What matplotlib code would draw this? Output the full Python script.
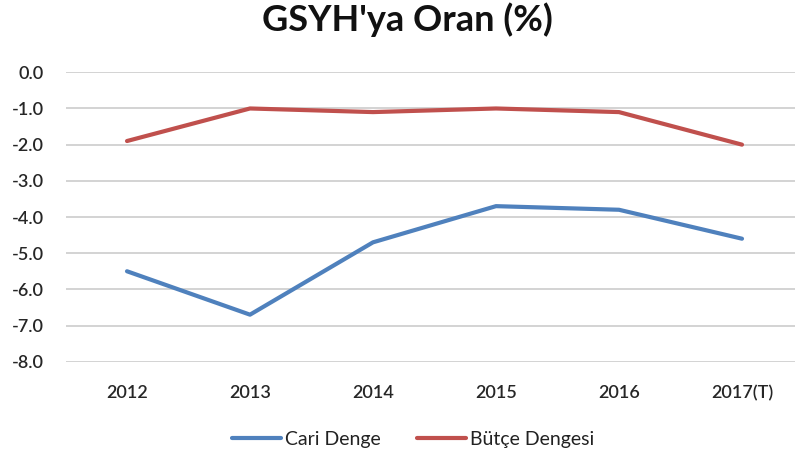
import matplotlib.pyplot as plt

# Veriler
yillar = ['2012', '2013', '2014', '2015', '2016', '2017(T)']
cari_denge = [-5.5, -6.7, -4.7, -3.7, -3.8, -4.6]
butce_dengesi = [-1.9, -1.0, -1.1, -1.0, -1.1, -2.0]

plt.rcParams['font.family'] = ['Lato', 'DejaVu Sans']

fig = plt.figure(figsize=(7.95, 4.59), dpi=100)
ax = fig.add_axes([65.5 / 795, 1 - 361.7 / 459, 738 / 795, (361.7 - 72.3) / 459])

x = range(len(yillar))
ax.plot(x, cari_denge, color='#4F81BD', linewidth=3, label='Cari Denge',
        solid_capstyle='round', solid_joinstyle='round')
ax.plot(x, butce_dengesi, color='#C0504D', linewidth=3, label='Bütçe Dengesi',
        solid_capstyle='round', solid_joinstyle='round')

ax.set_xlim(-0.5, len(yillar) - 0.5)
ax.set_ylim(-8, 0)
ax.set_yticks([0, -1, -2, -3, -4, -5, -6, -7, -8])
ax.set_yticklabels([f'{v:.1f}' for v in [0, -1, -2, -3, -4, -5, -6, -7, -8]])
ax.set_xticks(list(x))
ax.set_xticklabels(yillar)

ax.grid(axis='y', color='#D0D0D0', linewidth=1.3)
ax.set_axisbelow(True)
for s in ax.spines.values():
    s.set_visible(False)
ax.tick_params(axis='both', length=0, labelsize=13, labelcolor='#262626')
ax.tick_params(axis='y', pad=15.5)
ax.tick_params(axis='x', pad=17)
for lbl in ax.get_xticklabels() + ax.get_yticklabels():
    lbl.set_fontweight('semibold')

fig.text(407 / 795, 1 - 20 / 459, "GSYH'ya Oran (%)", ha='center', va='center',
         fontsize=26, fontweight='bold', color='#111111')

fig.legend(loc='center', bbox_to_anchor=(413 / 795, 1 - 439 / 459), ncol=2,
           frameon=False, fontsize=14, handlelength=2.5, handletextpad=0.2,
           columnspacing=1.9, labelcolor='#222222')

fig.savefig('out.png', dpi=100)
